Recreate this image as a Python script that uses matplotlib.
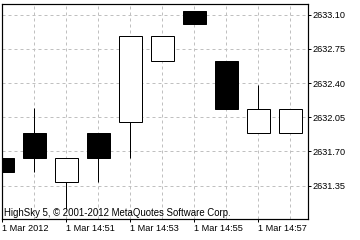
import numpy as np
import matplotlib
matplotlib.use("Agg")
import matplotlib.pyplot as plt

# one-minute candles, 1 Mar 2012 14:49 .. 14:58
minutes = ["14:49", "14:50", "14:51", "14:52", "14:53",
           "14:54", "14:55", "14:56", "14:57", "14:58"]
opens = [2631.63, 2631.89, 2631.39, 2631.89, 2632.00,
         2632.63, 2633.14, 2632.63, 2631.89, 2631.89]
closes = [2631.49, 2631.63, 2631.63, 2631.63, 2632.88,
          2632.88, 2633.00, 2632.13, 2632.13, 2632.13]
highs = [2631.63, 2632.14, 2631.63, 2631.89, 2632.88,
         2632.88, 2633.14, 2632.63, 2632.38, 2632.13]
lows = [2631.49, 2631.49, 2631.11, 2631.39, 2631.63,
        2632.63, 2633.00, 2632.13, 2631.89, 2631.89]

x_labels = ["1 Mar 2012", "1 Mar 14:51", "1 Mar 14:53", "1 Mar 14:55", "1 Mar 14:57"]
y_ticks = [2631.35, 2631.70, 2632.05, 2632.40, 2632.75, 2633.10]
watermark = "HighSky 5, \u00a9 2001-2012 MetaQuotes Software Corp."

plt.rcParams['font.family'] = ['Liberation Sans', 'DejaVu Sans']

fig = plt.figure(figsize=(3.6, 2.4), dpi=100)
ax = fig.add_axes([0.0064, 0.0875, 0.8483, 0.8945])

o = np.array(opens)
c = np.array(closes)
idx = np.arange(len(minutes))
up = c >= o
px = 0.72  # one pixel in points

ax.vlines(idx, lows, highs, color="black", linewidth=px, zorder=2)
ax.bar(idx, np.abs(c - o), bottom=np.minimum(o, c), width=0.7,
       color=np.where(up, "white", "black"), edgecolor="black",
       linewidth=px, zorder=3)

ax.set_xlim(0, 9.54)
ax.set_ylim(2631.009, 2633.206)

ax.set_xticks(idx[::2])
ax.set_xticklabels(x_labels, ha="left")
ax.set_xticks(idx[1::2], minor=True)
ax.set_yticks(y_ticks)
ax.set_yticklabels(["%.2f" % v for v in y_ticks])
ax.yaxis.tick_right()

ax.tick_params(axis="both", which="major", labelsize=6.6, length=2.5,
               width=px, color="black", pad=1)
ax.tick_params(axis="x", which="minor", length=0)
ax.grid(True, which="both", color="#c0c0c0", linewidth=px,
        linestyle=(0, (3, 3)))
ax.set_axisbelow(True)
for sp in ax.spines.values():
    sp.set_linewidth(px * 1.2)

ax.text(0.006, 0.012, watermark, transform=ax.transAxes, fontsize=6.9,
        ha="left", va="baseline")

fig.savefig("out.png", dpi=100)
